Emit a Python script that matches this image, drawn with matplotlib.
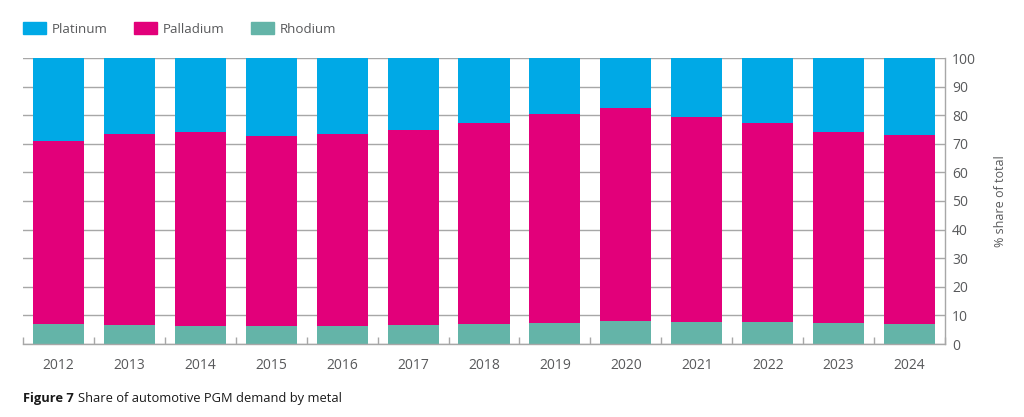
import numpy as np
import matplotlib
matplotlib.use('Agg')
import matplotlib.pyplot as plt
from matplotlib.patches import Patch

plt.rcParams['font.family'] = ['Open Sans', 'DejaVu Sans']

years = ['2012', '2013', '2014', '2015', '2016', '2017', '2018',
         '2019', '2020', '2021', '2022', '2023', '2024']
rhodium = [7.0, 6.8, 6.4, 6.3, 6.4, 6.5, 6.9, 7.5, 7.9, 7.8, 7.6, 7.4, 7.0]
# cumulative top of palladium (rhodium + palladium)
pd_top = [71.1, 73.3, 74.0, 72.7, 73.5, 74.8, 77.3, 80.3, 82.4, 79.4, 77.3, 74.2, 73.2]
palladium = [t - r for t, r in zip(pd_top, rhodium)]
platinum = [100 - t for t in pd_top]

C_PT, C_PD, C_RH = '#00a9e6', '#e2007a', '#64b4a8'
GREY = '#58595b'
GRID = '#a7a7a7'

fig = plt.figure(figsize=(10.24, 4.17), dpi=100)
ax = fig.add_axes([23 / 1024, 1 - 344 / 417, (945 - 23) / 1024, (344 - 58) / 417])

x = np.arange(len(years))
w = 0.72
ax.bar(x, rhodium, w, color=C_RH, zorder=2)
ax.bar(x, palladium, w, bottom=rhodium, color=C_PD, zorder=2)
ax.bar(x, platinum, w, bottom=pd_top, color=C_PT, zorder=2)

ax.set_xlim(-0.5, len(years) - 0.5)
ax.set_ylim(0, 100)
ax.set_yticks(range(0, 101, 10))
ax.yaxis.tick_right()
ax.yaxis.set_label_position('right')
ax.tick_params(axis='y', length=0, pad=5, labelsize=10, labelcolor=GREY)
ax.grid(axis='y', color=GRID, lw=1, zorder=0)

ax.set_xticks(x)
ax.set_xticklabels(years)
ax.set_xticks(np.arange(-0.5, len(years), 1), minor=True)
ax.tick_params(axis='x', which='major', length=0, pad=10, labelsize=10, labelcolor=GREY)
ax.tick_params(axis='x', which='minor', direction='in', length=5, color=GRID, width=1)

for s in ['top', 'left']:
    ax.spines[s].set_visible(False)
for s in ['bottom', 'right']:
    ax.spines[s].set_color(GRID)
    ax.spines[s].set_linewidth(1)

ax.set_ylabel('% share of total', color=GREY, fontsize=9, labelpad=13)

handles = [Patch(color=C_PT, label='Platinum'),
           Patch(color=C_PD, label='Palladium'),
           Patch(color=C_RH, label='Rhodium')]
leg = fig.legend(handles=handles, loc='center left', bbox_to_anchor=(23 / 1024, 1 - 29 / 417),
                 ncol=3, frameon=False, fontsize=9.6, borderpad=0, borderaxespad=0,
                 handlelength=1.7, handleheight=1.0, handletextpad=0.45,
                 columnspacing=2.0)
for t in leg.get_texts():
    t.set_color(GREY)

# caption
r = fig.canvas.get_renderer()
t1 = fig.text(23 / 1024, 1 - 402 / 417, 'Figure 7', fontsize=9.3, fontweight='bold',
              color='#1a1a1a', va='baseline')
bb = t1.get_window_extent(renderer=r)
fig.text((bb.x1 + 4) / 1024, 1 - 402 / 417, 'Share of automotive PGM demand by metal',
         fontsize=9.3, color='#1a1a1a', va='baseline')

fig.savefig('out.png', dpi=100)
